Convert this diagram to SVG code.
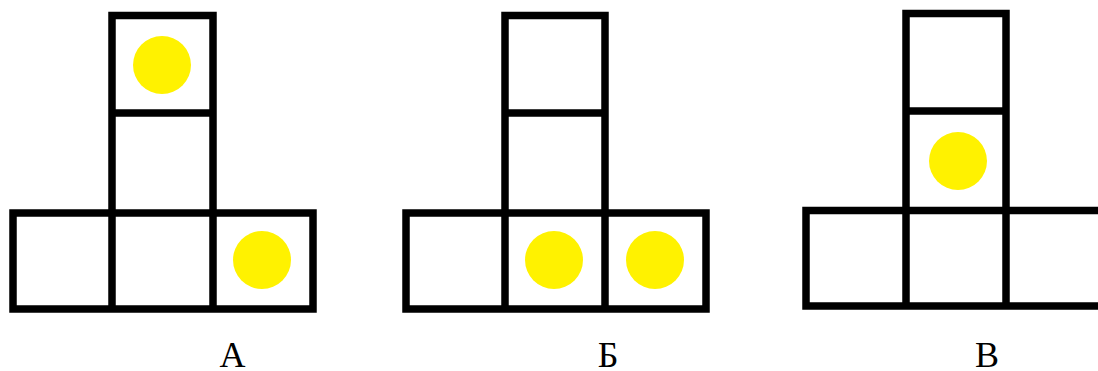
<svg xmlns="http://www.w3.org/2000/svg" width="1098" height="371" viewBox="0 0 1098 371">
<style>
.g{fill:none;stroke:#000;stroke-width:7.5;stroke-linecap:square;stroke-linejoin:miter}
.d{fill:#fff200}
.t{font-family:"Liberation Serif","Times New Roman",serif;font-size:36px;fill:#000;text-anchor:middle}
</style>
<rect width="1098" height="371" fill="#fff"/>
<g id="figA">
<path class="g" d="M112,15.5H213V213M112,15.5V309M112,113H213M13,213H313V309H13ZM213,213V309"/>
<circle class="d" cx="162" cy="65" r="29"/>
<circle class="d" cx="262" cy="260" r="29"/>
<text class="t" x="232.5" y="367">А</text>
</g>
<g id="figB">
<path class="g" d="M505,15.5H605V213M505,15.5V309M505,113H605M406,213H706V309H406ZM605,213V309"/>
<circle class="d" cx="554" cy="260" r="29"/>
<circle class="d" cx="655" cy="260" r="29"/>
<text class="t" x="608" y="367">Б</text>
</g>
<g id="figC">
<path class="g" d="M906,13.5H1006V210.5M906,13.5V306M906,111H1006M806,210.5H1102M806,210.5V306H1102M1006,210.5V306"/>
<circle class="d" cx="958" cy="161" r="29"/>
<text class="t" x="987" y="367">В</text>
</g>
</svg>
